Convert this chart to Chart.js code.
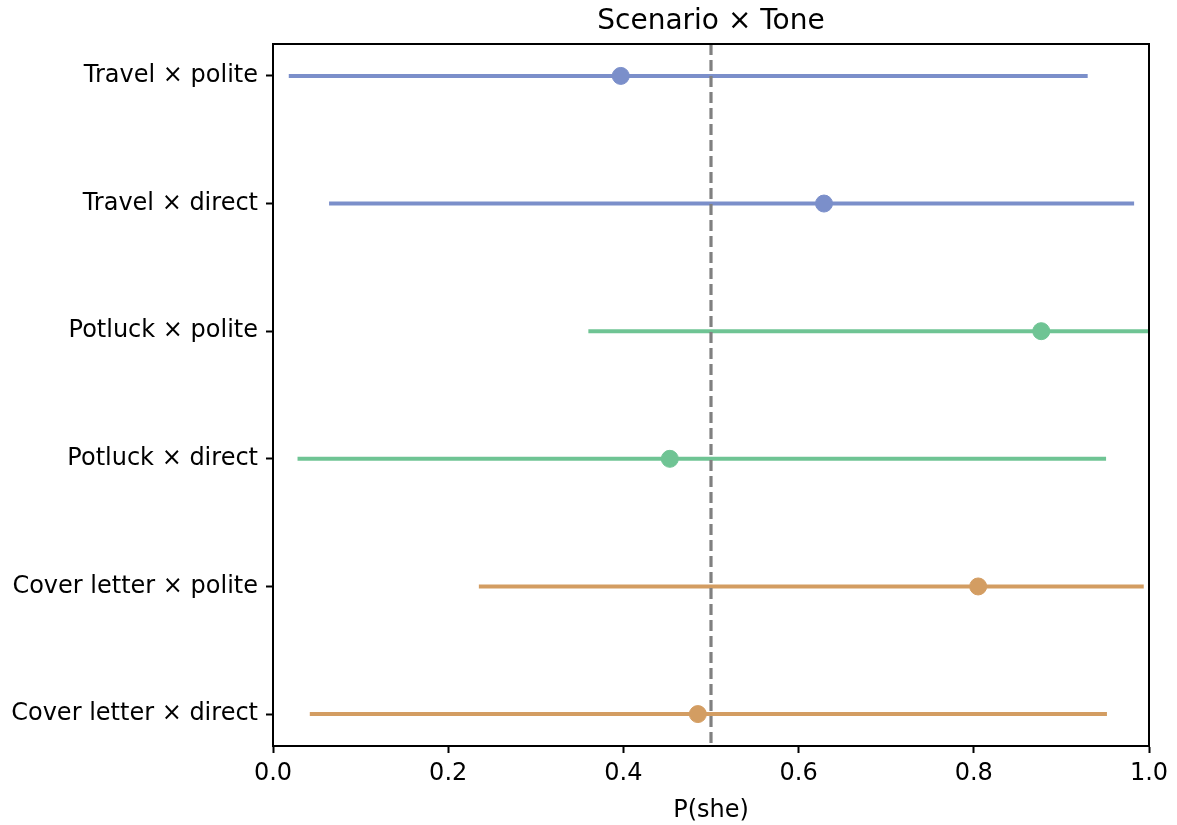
<!DOCTYPE html>
<html>
<head>
<meta charset="utf-8">
<title>Scenario × Tone</title>
<script src="https://cdn.jsdelivr.net/npm/chart.js@4/dist/chart.umd.min.js"></script>
<style>
    html, body { margin: 0; padding: 0; background: #fff; }
    #wrap { width: 1177px; height: 825px; }
</style>
</head>
<body>
<div id="wrap"><canvas id="chart" width="1177" height="825"></canvas></div>
<script>
// Conditions, de haut en bas
const conditions = [
    'Travel × polite',
    'Travel × direct',
    'Potluck × polite',
    'Potluck × direct',
    'Cover letter × polite',
    'Cover letter × direct'
];
// Estimation ponctuelle de P(she)
const estimates = [0.397, 0.629, 0.877, 0.453, 0.805, 0.485];
// Bornes des intervalles
const lowerBounds = [0.018, 0.064, 0.360, 0.028, 0.235, 0.042];
const upperBounds = [0.930, 0.983, 1.000, 0.951, 0.994, 0.952];
// Couleur par scénario
const conditionColors = ['#7b8fca', '#7b8fca', '#6fc494', '#6fc494', '#d39d62', '#d39d62'];
const xTicks = [0.0, 0.2, 0.4, 0.6, 0.8, 1.0];
const referenceLine = 0.5;
const chartTitle = 'Scenario × Tone';

const font = 'DejaVu Sans';

// Un segment par condition pour l'intervalle
const intervalDatasets = conditions.map((name, i) => ({
    type: 'line',
    label: name,
    data: [{ x: lowerBounds[i], y: i }, { x: upperBounds[i], y: i }],
    borderColor: conditionColors[i],
    borderWidth: 4,
    pointRadius: 0,
    fill: false,
    order: 3
}));

const pointDataset = {
    type: 'scatter',
    label: 'estimate',
    data: estimates.map((v, i) => ({ x: v, y: i })),
    backgroundColor: conditionColors,
    borderColor: conditionColors,
    pointRadius: 8.5,
    pointHoverRadius: 8.5,
    order: 2
};

const dashedDataset = {
    type: 'line',
    label: 'chance',
    data: [{ x: referenceLine, y: -0.25 }, { x: referenceLine, y: conditions.length - 0.75 }],
    borderColor: '#808080',
    borderWidth: 3.2,
    borderDash: [11, 5],
    pointRadius: 0,
    fill: false,
    order: 1
};

// Cadre complet et titre centré sur la zone de tracé
const framePlugin = {
    id: 'frame',
    afterDraw(chart) {
        const { ctx, chartArea: a } = chart;
        ctx.save();
        ctx.strokeStyle = '#000';
        ctx.lineWidth = 2;
        ctx.strokeRect(a.left, a.top, a.right - a.left, a.bottom - a.top);
        ctx.fillStyle = '#000';
        ctx.font = `28px "${font}"`;
        ctx.textAlign = 'center';
        ctx.textBaseline = 'middle';
        ctx.fillText(chartTitle, (a.left + a.right) / 2, 22);
        ctx.restore();
    }
};

new Chart(document.getElementById('chart').getContext('2d'), {
    type: 'scatter',
    data: { datasets: [...intervalDatasets, pointDataset, dashedDataset] },
    options: {
        responsive: false,
        animation: false,
        layout: { padding: { left: 0, right: 28, top: 44, bottom: 0 } },
        plugins: {
            legend: { display: false },
            tooltip: { enabled: false },
            title: { display: false }
        },
        scales: {
            x: {
                type: 'linear',
                min: 0,
                max: 1,
                afterBuildTicks: scale => { scale.ticks = xTicks.map(v => ({ value: v })); },
                afterFit: scale => { scale.height = 79; },
                ticks: {
                    color: '#000',
                    font: { family: font, size: 24 },
                    padding: 6,
                    callback: v => Number(v).toFixed(1)
                },
                grid: { drawOnChartArea: false, tickLength: 7, tickWidth: 2, tickColor: '#000' },
                border: { color: '#000', width: 2 },
                title: {
                    display: true,
                    text: 'P(she)',
                    color: '#000',
                    font: { family: font, size: 24 },
                    padding: { top: 3, bottom: 0 }
                }
            },
            y: {
                type: 'linear',
                reverse: true,
                min: -0.25,
                max: conditions.length - 0.75,
                afterBuildTicks: scale => { scale.ticks = conditions.map((_, i) => ({ value: i })); },
                afterFit: scale => { scale.width = 273; },
                ticks: {
                    color: '#000',
                    font: { family: font, size: 24 },
                    padding: 8,
                    callback: v => conditions[v]
                },
                grid: { drawOnChartArea: false, tickLength: 7, tickWidth: 2, tickColor: '#000' },
                border: { color: '#000', width: 2 }
            }
        }
    },
    plugins: [framePlugin]
});
</script>
</body>
</html>
